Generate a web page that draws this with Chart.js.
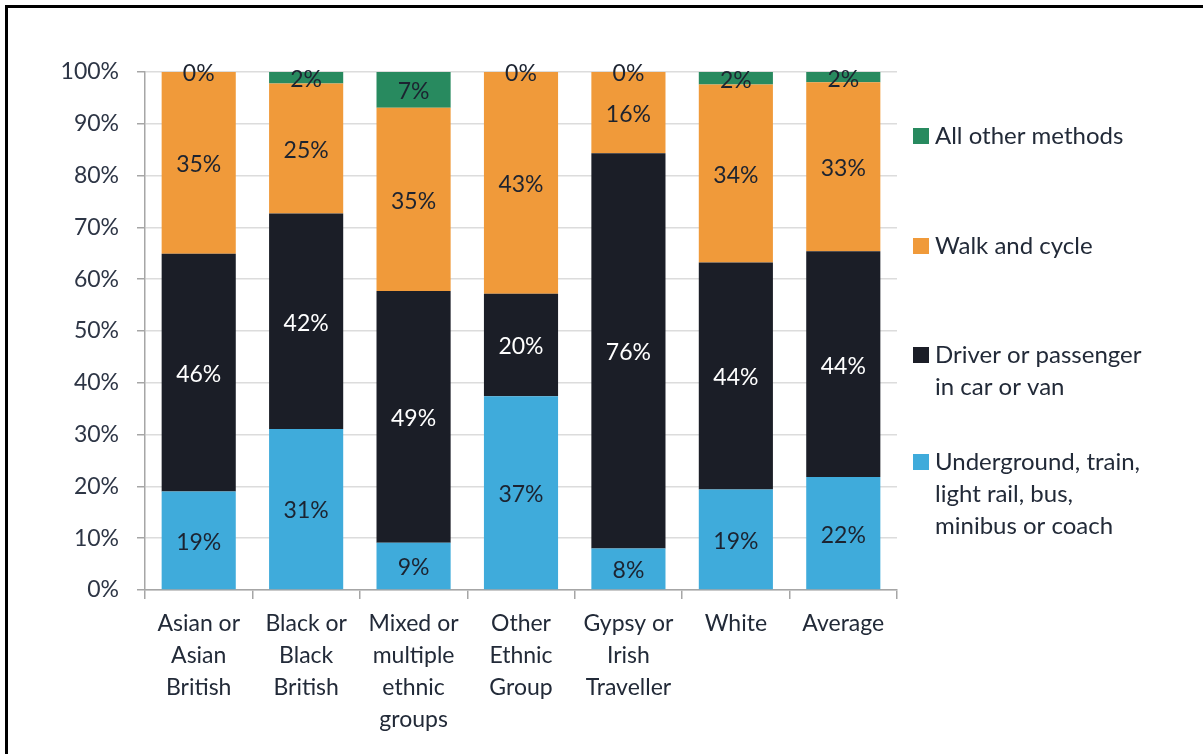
<!DOCTYPE html>
<html>
  <head>
    <script src="https://cdn.jsdelivr.net/npm/chart.js@4.4.1/dist/chart.umd.min.js"></script>
    <style>
      html, body { margin: 0; padding: 0; background: #fff; }
      #wrap { position: relative; width: 1203px; height: 754px; }
      #frame { position: absolute; left: 5px; top: 5px; right: 0; bottom: 0;
               border-top: 3px solid #000; border-left: 3px solid #000; pointer-events: none; }
    </style>
  </head>
  <body>
    <div id="wrap">
      <canvas id="output" width="1203" height="754"></canvas>
      <div id="frame"></div>
    </div>

    <script>
      // Categories and the share of each travel method (percent)
      var groups = [
        ['Asian or', 'Asian', 'British'],
        ['Black or', 'Black', 'British'],
        ['Mixed or', 'multiple', 'ethnic', 'groups'],
        ['Other', 'Ethnic', 'Group'],
        ['Gypsy or', 'Irish', 'Traveller'],
        ['White'],
        ['Average']
      ];
      var publicTransport = [19.0, 31.1, 9.1, 37.4, 8.0, 19.4, 21.8];
      var carOrVan        = [45.9, 41.6, 48.6, 19.8, 76.3, 43.8, 43.6];
      var walkAndCycle    = [35.1, 25.1, 35.4, 42.8, 15.7, 34.4, 32.6];
      var otherMethods    = [0.0, 2.2, 6.9, 0.0, 0.0, 2.4, 2.0];

      var seriesNames = [
        ['Underground, train,', 'light rail, bus,', 'minibus or coach'],
        ['Driver or passenger', 'in car or van'],
        ['Walk and cycle'],
        ['All other methods']
      ];
      var yTicks = [0, 10, 20, 30, 40, 50, 60, 70, 80, 90, 100];

      var colours = ['#3fabdb', '#1b1e27', '#f09a3a', '#288a5f'];
      var labelColours = ['#1c2330', '#ffffff', '#1c2330', '#1c2330'];
      var FONT = 'Lato, "Open Sans", sans-serif';
      var TEXT = '#222a38';

      // Percent labels in the middle of each stacked segment
      var segmentLabels = {
        id: 'segmentLabels',
        afterDatasetsDraw: function(chart) {
          var ctx = chart.ctx;
          ctx.save();
          ctx.font = '23px ' + FONT;
          ctx.textAlign = 'center';
          ctx.textBaseline = 'middle';
          chart.data.datasets.forEach(function(ds, i) {
            var meta = chart.getDatasetMeta(i);
            meta.data.forEach(function(bar, j) {
              var v = ds.data[j];
              ctx.fillStyle = labelColours[i];
              var cy = (bar.y + bar.base) / 2;
              ctx.fillText(Math.round(v) + '%', bar.x, cy + 2);
            });
          });
          ctx.restore();
        }
      };

      // Legend on the right, top entry is the top of the stack
      var sideLegend = {
        id: 'sideLegend',
        afterDraw: function(chart) {
          var ctx = chart.ctx;
          var rows = [135, 245, 354, 461];
          ctx.save();
          ctx.font = '24px ' + FONT;
          ctx.textBaseline = 'middle';
          ctx.textAlign = 'left';
          for (var k = 0; k < 4; k++) {
            var i = 3 - k;
            var y = rows[k];
            ctx.fillStyle = colours[i];
            ctx.fillRect(913, y - 7, 16, 16);
            ctx.fillStyle = TEXT;
            seriesNames[i].forEach(function(line, n) {
              ctx.fillText(line, 935, y + 1 + n * 32);
            });
          }
          ctx.restore();
        }
      };

      var ctx = document.getElementById('output').getContext('2d');
      var datasets = [publicTransport, carOrVan, walkAndCycle, otherMethods].map(function(d, i) {
        return {
          label: seriesNames[i].join(' '),
          data: d,
          backgroundColor: colours[i],
          barPercentage: 0.69,
          categoryPercentage: 1.0
        };
      });

      var myChart = new Chart(ctx, {
        type: 'bar',
        data: { labels: groups, datasets: datasets },
        options: {
          responsive: false,
          animation: false,
          layout: { padding: { top: 72, right: 306, left: 0, bottom: 0 } },
          plugins: { legend: { display: false }, tooltip: { enabled: false } },
          scales: {
            x: {
              stacked: true,
              grid: { offset: true, drawOnChartArea: false, drawTicks: true, tickLength: 9, tickColor: '#a6a6a6', lineWidth: 1.5 },
              border: { color: '#a6a6a6', width: 1.5 },
              ticks: {
                color: TEXT, padding: 8, maxRotation: 0, autoSkip: false,
                font: { family: FONT, size: 23, lineHeight: 1.4 }
              },
              afterFit: function(s) { s.height = 754 - 590; }
            },
            y: {
              stacked: true,
              min: 0, max: 100,
              afterBuildTicks: function(s) { s.ticks = yTicks.map(function(v) { return { value: v }; }); },
              grid: { color: '#dcdcdc', lineWidth: 1.5, tickLength: 8, tickColor: '#a6a6a6' },
              border: { color: '#a6a6a6', width: 1.5 },
              ticks: {
                color: '#2d3545', padding: 18,
                font: { family: FONT, size: 23 },
                callback: function(v) { return v + '%'; }
              },
              afterFit: function(s) { s.width = 145; }
            }
          }
        },
        plugins: [segmentLabels, sideLegend]
      });
    </script>
  </body>
</html>
